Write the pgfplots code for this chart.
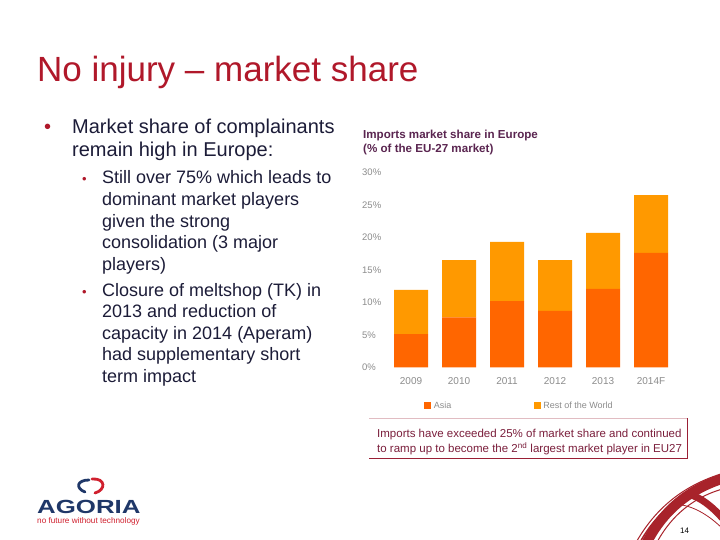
\documentclass[border=0pt]{standalone}
\usepackage{pgfplots}
\pgfplotsset{compat=1.18}
\usepackage{fontspec}
\setmainfont{Liberation Sans}
\definecolor{titlered}{HTML}{B0182A}
\definecolor{bodytext}{HTML}{1C1C38}
\definecolor{bulletred}{HTML}{B0182A}
\definecolor{charttitle}{HTML}{5A2550}
\definecolor{asia}{HTML}{FF6600}
\definecolor{rest}{HTML}{FF9900}
\definecolor{tickgray}{HTML}{8C8C8C}
\definecolor{boxred}{HTML}{9A1F35}
\definecolor{boxtext}{HTML}{7B1F3C}
\definecolor{navy}{HTML}{1F3768}
\definecolor{logored}{HTML}{D0202E}
\definecolor{swirl}{HTML}{A8232B}
\begin{document}
\begin{tikzpicture}
\useasboundingbox (0,0) rectangle (720pt,-540pt);
\fill[white] (0,0) rectangle (720pt,-540pt);
\begin{scope}[x=1pt,y=-1pt]
% title
\node[anchor=base west, inner sep=0pt, text=titlered, font=\fontsize{35}{40}\selectfont] at (37,82) {No injury – market share};
% bullets
\node[anchor=base west, inner sep=0pt, text=bulletred, font=\fontsize{20}{23}\selectfont] at (44,134) {•};
\foreach \t/\y in {{Market share of complainants}/134, {remain high in Europe:}/157}
  \node[anchor=base west, inner sep=0pt, text=bodytext, font=\fontsize{20}{23}\selectfont] at (72,\y) {\t};
\node[anchor=base west, inner sep=0pt, text=bulletred, font=\fontsize{13}{15}\selectfont] at (82,184) {•};
\node[anchor=base west, inner sep=0pt, text=bulletred, font=\fontsize{13}{15}\selectfont] at (82,296) {•};
\foreach \t/\y in {{Still over 75\% which leads to}/184, {dominant market players}/205.5, {given the strong}/227, {consolidation (3 major}/248.5, {players)}/270,
  {Closure of meltshop (TK) in}/296, {2013 and reduction of}/317.5, {capacity in 2014 (Aperam)}/339, {had supplementary short}/360.5, {term impact}/382}
  \node[anchor=base west, inner sep=0pt, text=bodytext, font=\fontsize{18}{21}\selectfont] at (102,\y) {\t};
% chart title
\node[anchor=base west, inner sep=0pt, text=charttitle, font=\fontsize{11.6}{13}\selectfont\bfseries] at (363,139) {Imports market share in Europe};
\node[anchor=base west, inner sep=0pt, text=charttitle, font=\fontsize{11.6}{13}\selectfont\bfseries] at (363,152.5) {(\% of the EU-27 market)};
% comment box
\draw[boxred!30, line width=0.6pt] (369,418) -- (687,418);
\draw[boxred, line width=1pt] (369,458) -- (687,458) -- (687,418);
\node[anchor=base west, inner sep=0pt, text=boxtext, font=\fontsize{11.5}{13}\selectfont] at (377,437) {Imports have exceeded 25\% of market share and continued};
\node[anchor=base west, inner sep=0pt, text=boxtext, font=\fontsize{11.5}{13}\selectfont] at (377,452.5) {to ramp up to become the 2\textsuperscript{nd} largest market player in EU27};
% logo
\draw[navy, line width=2.8pt, line cap=round] (85,492) .. controls (75,488) and (77,480) .. (89,480);
\draw[logored, line width=2.8pt, line cap=round] (92,479) .. controls (106,478) and (106,490) .. (95,493);
\node[anchor=base west, inner sep=0pt, text=navy, font=\fontsize{19}{20}\selectfont\bfseries] at (37,513) {\scalebox{1.36}[1]{AGORIA}};
\node[anchor=base west, inner sep=0pt, text=logored, font=\fontsize{8.2}{9}\selectfont] at (37,523) {no future without technology};
\end{scope}
\begin{axis}[
  at={(387pt,-367.3pt)}, anchor=south west,
  scale only axis, width=288pt, height=195pt,
  ybar stacked, bar width=34pt,
  xmin=-0.5, xmax=5.5, ymin=0, ymax=30,
  axis line style={draw=none}, major tick style={draw=none},
  xtick={0,1,2,3,4,5},
  xticklabels={2009,2010,2011,2012,2013,2014F},
  ytick={0,5,10,15,20,25,30},
  yticklabel={\pgfmathprintnumber{\tick}\%},
  /pgf/number format/assume math mode=true,
  yticklabel style={anchor=west, inner sep=0pt, xshift=-25pt, font=\fontsize{9.5}{10}\selectfont, text=tickgray},
  xticklabel style={anchor=north, inner sep=0pt, yshift=-10pt, font=\fontsize{10}{10}\selectfont, text=tickgray},
  legend image code/.code={\fill[#1] (0pt,-3.5pt) rectangle (7pt,3.5pt);},
  legend columns=2,
  legend style={at={(axis description cs:0.129,-0.198)}, anchor=west, draw=none, fill=none, inner sep=0pt,
    font=\fontsize{9}{10}\selectfont, text=tickgray,
    /tikz/every even column/.append style={column sep=80pt},
    nodes={inner sep=2.5pt}},
  legend cell align=left,
]
\addplot[fill=asia, draw=none] coordinates {(0,5.1) (1,7.7) (2,10.2) (3,8.7) (4,12.05) (5,17.6)};
\addplot[fill=rest, draw=none] coordinates {(0,6.8) (1,8.8) (2,9.1) (3,7.8) (4,8.65) (5,8.9)};
\legend{Asia, Rest of the World}
\end{axis}
\begin{scope}[x=1pt,y=-1pt]
\clip (0,0) rectangle (720,540);
\draw[swirl, line width=10pt] (644,548) .. controls (662,510) and (690,488) .. (728,477);
\draw[swirl, line width=1pt] (633,548) .. controls (654,508) and (684,485) .. (724,473);
\draw[swirl, line width=1.5pt] (637,548) .. controls (656,510) and (686,489) .. (724,478);
\draw[swirl, line width=1pt] (654,548) .. controls (670,515) and (695,496) .. (726,488);
\draw[swirl, line width=7pt] (688,494) .. controls (700,497) and (712,506) .. (724,520);
\draw[swirl, line width=0.8pt] (682,505) .. controls (698,508) and (712,518) .. (724,530);
\node[anchor=base west, inner sep=0pt, font=\fontsize{8}{9}\selectfont] at (680,533) {14};
\end{scope}
\end{tikzpicture}
\end{document}
